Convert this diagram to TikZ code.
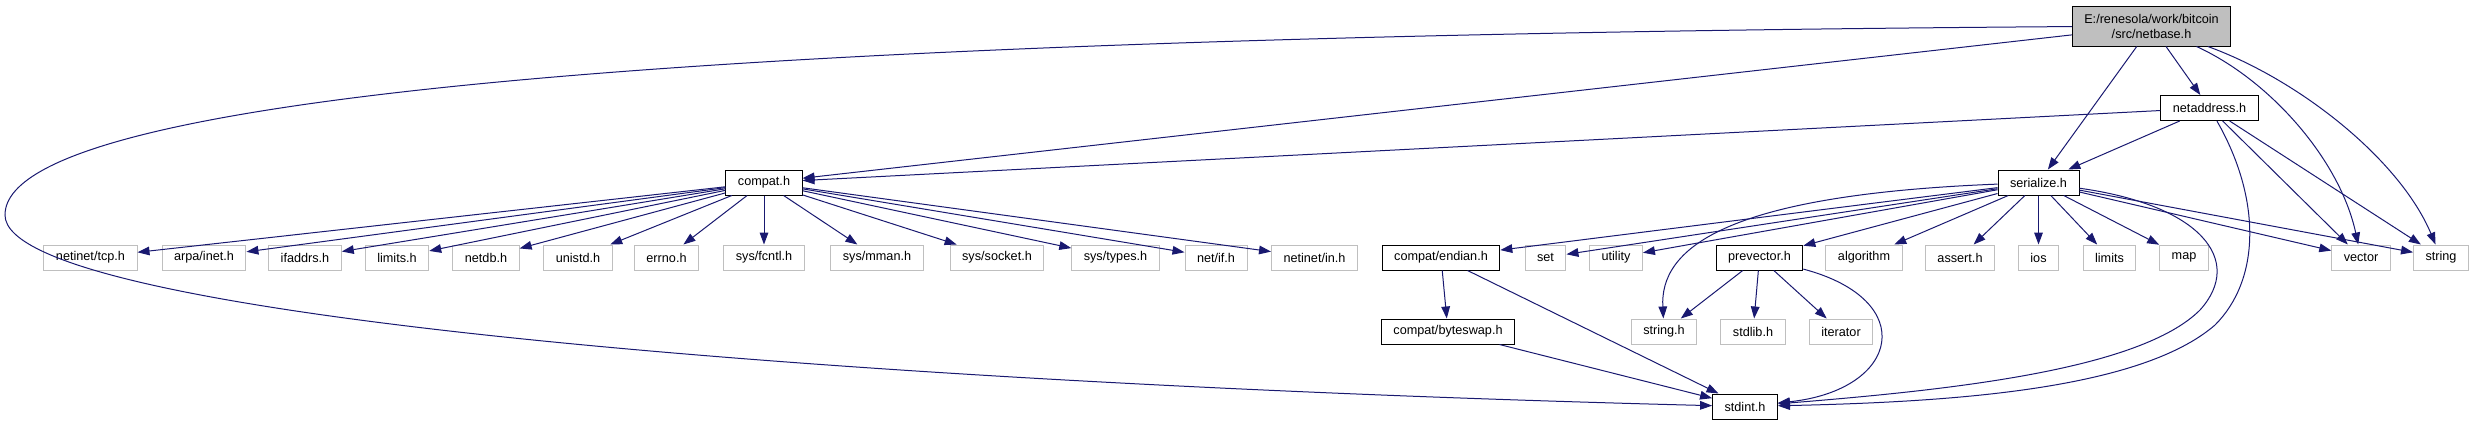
\documentclass[tikz,border=0pt]{standalone}
\usepackage{fontspec}
\setmainfont{Liberation Sans}
\usetikzlibrary{positioning, arrows.meta}
\definecolor{edgeblue}{HTML}{191970}
\definecolor{greyline}{HTML}{BFBFBF}

\begin{document}
\begin{tikzpicture}[
        x=0.75pt, y=-0.75pt,
        incfile/.style={rectangle, draw, line width=0.75pt, inner xsep=9pt, minimum height=18.75pt, font=\fontsize{9.5}{11.25}\selectfont},
        doc/.style={incfile, draw=black},
        nodoc/.style={incfile, draw=greyline},
        mainfile/.style={incfile, draw=black, fill=greyline, align=center, minimum height=30pt},
        arrow/.style={->, >={Triangle[length=9pt,width=6.5pt]}, draw=edgeblue, line width=0.75pt}
      ]
        \useasboundingbox (0,0) rectangle (2474,425);

        % Main file
        \node[mainfile] (netbase) at (2151.5,26) {E:/renesola/work/bitcoin\\/src/netbase.h};

        % Project headers
        \node[doc] (netaddress) at (2209.5,108) {netaddress.h};
        \node[doc] (compat) at (764,182.5) {compat.h};
        \node[doc] (serialize) at (2038.5,182.5) {serialize.h};
        \node[doc] (endian) at (1441,257.5) {compat/endian.h};
        \node[doc] (prevector) at (1759.5,257.5) {prevector.h};
        \node[doc] (byteswap) at (1448,331.5) {compat/byteswap.h};
        \node[doc] (stdint) at (1745,406.5) {stdint.h};

        % System headers
        \node[nodoc] (tcp) at (90.5,257.5) {netinet/tcp.h};
        \node[nodoc] (inet) at (204,257.5) {arpa/inet.h};
        \node[nodoc] (ifaddrs) at (305,257.5) {ifaddrs.h};
        \node[nodoc] (climits) at (397,257.5) {limits.h};
        \node[nodoc] (netdb) at (486,257.5) {netdb.h};
        \node[nodoc] (unistd) at (578,257.5) {unistd.h};
        \node[nodoc] (errno) at (666.5,257.5) {errno.h};
        \node[nodoc] (fcntl) at (764,257.5) {sys/fcntl.h};
        \node[nodoc] (mman) at (877,257.5) {sys/mman.h};
        \node[nodoc] (socket) at (997,257.5) {sys/socket.h};
        \node[nodoc] (systypes) at (1115.5,257.5) {sys/types.h};
        \node[nodoc] (netif) at (1216,257.5) {net/if.h};
        \node[nodoc] (netinetin) at (1314.5,257.5) {netinet/in.h};
        \node[nodoc] (set) at (1545.5,257.5) {set};
        \node[nodoc] (utility) at (1616,257.5) {utility};
        \node[nodoc] (algorithm) at (1864,257.5) {algorithm};
        \node[nodoc] (asserth) at (1960,257.5) {assert.h};
        \node[nodoc] (ios) at (2038.5,257.5) {ios};
        \node[nodoc] (limits) at (2109.5,257.5) {limits};
        \node[nodoc] (map) at (2184,257.5) {map};
        \node[nodoc] (vector) at (2361,257.5) {vector};
        \node[nodoc] (string) at (2441,257.5) {string};
        \node[nodoc] (stringh) at (1664,331.5) {string.h};
        \node[nodoc] (stdlib) at (1753,331.5) {stdlib.h};
        \node[nodoc] (iterator) at (1841,331.5) {iterator};

        % Includes of netbase.h
        \coordinate (bend) at (5,215);
        \draw[arrow] (netbase) .. controls (900,35) and (5,80) .. (bend) .. controls (5,320) and (900,385) .. (stdint);
        \draw[arrow] (netbase) -- (compat);
        \draw[arrow] (netbase) -- (netaddress);
        \draw[arrow] (netbase) -- (serialize);
        \draw[arrow] (netbase) .. controls (2270,80) and (2340,160) .. (vector);
        \draw[arrow] (netbase) .. controls (2300,80) and (2400,160) .. (string);

        % Includes of netaddress.h
        \draw[arrow] (netaddress) -- (compat);
        \draw[arrow] (netaddress) -- (serialize);
        \draw[arrow] (netaddress) -- (vector);
        \draw[arrow] (netaddress) -- (string);
        \draw[arrow] (netaddress) .. controls (2262,200) and (2260,280) .. (2215,325) .. controls (2140,390) and (1950,402) .. (stdint);

        % Includes of compat.h
        \draw[arrow] (compat) -- (tcp);
        \draw[arrow] (compat) -- (inet);
        \draw[arrow] (compat) -- (ifaddrs);
        \draw[arrow] (compat) -- (climits);
        \draw[arrow] (compat) -- (netdb);
        \draw[arrow] (compat) -- (unistd);
        \draw[arrow] (compat) -- (errno);
        \draw[arrow] (compat) -- (fcntl);
        \draw[arrow] (compat) -- (mman);
        \draw[arrow] (compat) -- (socket);
        \draw[arrow] (compat) -- (systypes);
        \draw[arrow] (compat) -- (netif);
        \draw[arrow] (compat) -- (netinetin);

        % Includes of serialize.h
        \draw[arrow] (serialize) -- (endian);
        \draw[arrow] (serialize) -- (set);
        \draw[arrow] (serialize) -- (utility);
        \draw[arrow] (serialize) .. controls (1720,195) and (1660,250) .. (stringh);
        \draw[arrow] (serialize) -- (prevector);
        \draw[arrow] (serialize) -- (algorithm);
        \draw[arrow] (serialize) -- (asserth);
        \draw[arrow] (serialize) -- (ios);
        \draw[arrow] (serialize) -- (limits);
        \draw[arrow] (serialize) -- (map);
        \draw[arrow] (serialize) -- (vector);
        \draw[arrow] (serialize) -- (string);
        \draw[arrow] (serialize) .. controls (2200,205) and (2245,260) .. (2200,310) .. controls (2140,370) and (1950,390) .. (stdint);

        % Includes of compat/endian.h and prevector.h
        \draw[arrow] (endian) -- (byteswap);
        \draw[arrow] (endian) -- (stdint);
        \draw[arrow] (byteswap) -- (stdint);
        \draw[arrow] (prevector) -- (stringh);
        \draw[arrow] (prevector) -- (stdlib);
        \draw[arrow] (prevector) -- (iterator);
        \draw[arrow] (prevector) .. controls (1920,300) and (1900,390) .. (stdint);
      \end{tikzpicture}
\end{document}
